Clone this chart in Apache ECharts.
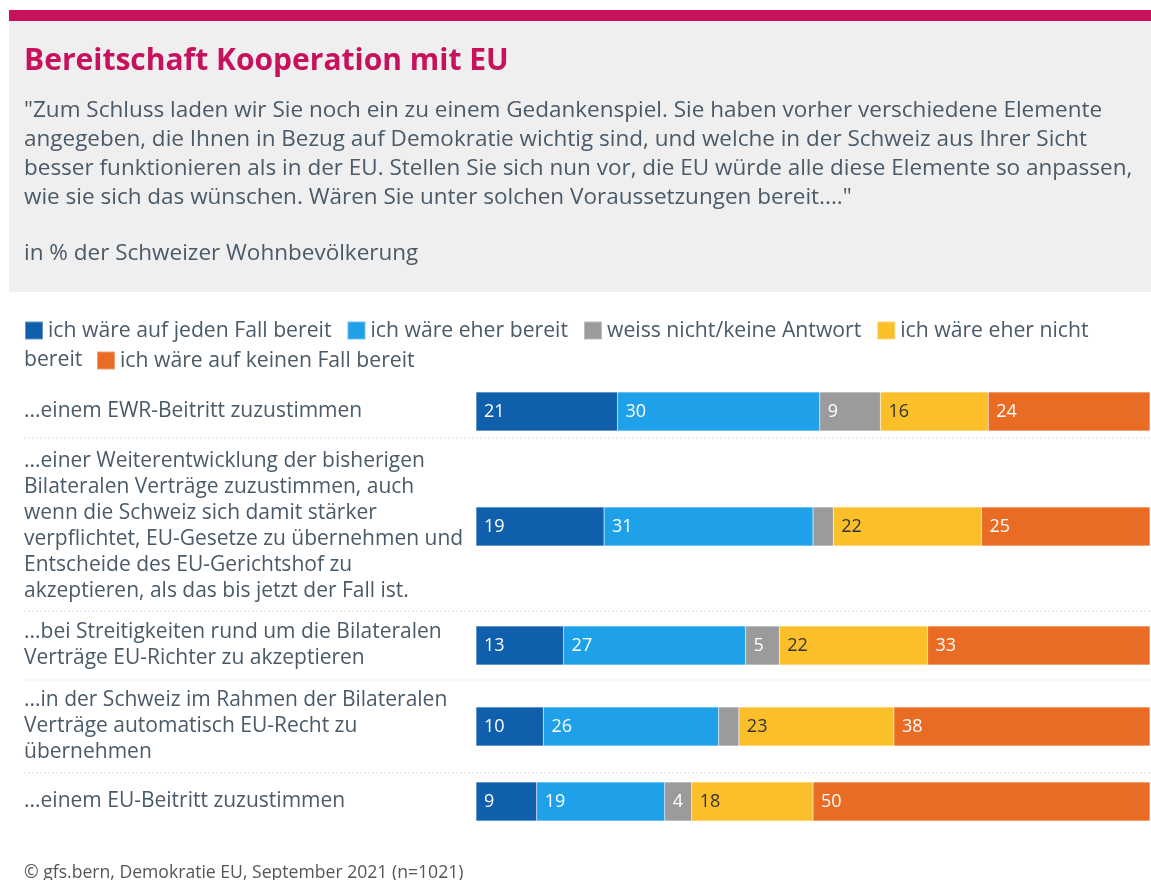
<!DOCTYPE html>
<html>
<head>
<meta charset="utf-8">
<script src="https://cdn.jsdelivr.net/npm/echarts@6/dist/echarts.min.js"></script>
<style>
html,body{margin:0;padding:0;background:#fff;}
#chart{width:1151px;height:880px;}
</style>
</head>
<body>
<div id="chart"></div>
<script>
// ---- data ----
var categories = [
  '...einem EWR-Beitritt zuzustimmen',
  '...einer Weiterentwicklung der bisherigen\nBilateralen Verträge zuzustimmen, auch\nwenn die Schweiz sich damit stärker\nverpflichtet, EU-Gesetze zu übernehmen und\nEntscheide des EU-Gerichtshof zu\nakzeptieren, als das bis jetzt der Fall ist.',
  '...bei Streitigkeiten rund um die Bilateralen\nVerträge EU-Richter zu akzeptieren',
  '...in der Schweiz im Rahmen der Bilateralen\nVerträge automatisch EU-Recht zu\nübernehmen',
  '...einem EU-Beitritt zuzustimmen'
];
var seriesNames = [
  'ich wäre auf jeden Fall bereit',
  'ich wäre eher bereit',
  'weiss nicht/keine Antwort',
  'ich wäre eher nicht bereit',
  'ich wäre auf keinen Fall bereit'
];
var aufJedenFall = [21, 19, 13, 10, 9];
var eherBereit   = [30, 31, 27, 26, 19];
var weissNicht   = [9, 3, 5, 3, 4];
var eherNicht    = [16, 22, 22, 23, 18];
var aufKeinenFall= [24, 25, 33, 38, 50];

// ---- layout / style ----
var values = [aufJedenFall, eherBereit, weissNicht, eherNicht, aufKeinenFall];
var colors = ['#0f5fac', '#1fa1e9', '#9b9b9b', '#fbbf2a', '#e96b24'];
var labelColors = ['#ffffff', '#ffffff', '#ffffff', '#333333', '#ffffff'];
var rowTops = [392, 507, 626, 707, 782];
var barH = 39;
var textColor = '#4a5a68';
var font = '"Open Sans", "Noto Sans", sans-serif';

var grids = [], xAxes = [], yAxes = [], series = [];
categories.forEach(function (cat, r) {
  grids.push({left: 476, right: 1, top: rowTops[r], height: barH, containLabel: false});
  xAxes.push({type: 'value', gridIndex: r, min: 0, max: 100, show: false});
  yAxes.push({
    type: 'category', gridIndex: r, data: [cat],
    axisLine: {show: false}, axisTick: {show: false},
    axisLabel: {
      align: 'left', margin: 452, color: textColor, fontSize: 21,
      fontFamily: font, lineHeight: 26
    }
  });
  values.forEach(function (arr, s) {
    series.push({
      name: seriesNames[s], type: 'bar', stack: 'row' + r,
      xAxisIndex: r, yAxisIndex: r,
      barCategoryGap: 0, barWidth: barH,
      itemStyle: {color: colors[s], borderColor: 'rgba(255,255,255,0.35)', borderWidth: 0.5},
      label: {
        show: true, position: 'insideLeft', distance: 8,
        color: labelColors[s], fontSize: 18, fontFamily: font,
        formatter: function (p) { return p.value >= 4 ? String(p.value) : ''; }
      },
      emphasis: {disabled: true},
      data: [arr[r]]
    });
  });
});

var sepYs = [438, 611, 680, 773];
var graphics = [
  {type: 'rect', shape: {x: 9, y: 10, width: 1142, height: 11}, style: {fill: '#c8115d'}, silent: true},
  {type: 'rect', shape: {x: 9, y: 21, width: 1142, height: 271}, style: {fill: '#efefef'}, silent: true},
  {type: 'text', left: 24, top: 46, style: {text: 'Bereitschaft Kooperation mit EU', fill: '#c8115d', font: 'bold 30px ' + font}},
  {type: 'text', left: 24, top: 96, style: {
    text: '"Zum Schluss laden wir Sie noch ein zu einem Gedankenspiel. Sie haben vorher verschiedene Elemente\nangegeben, die Ihnen in Bezug auf Demokratie wichtig sind, und welche in der Schweiz aus Ihrer Sicht\nbesser funktionieren als in der EU. Stellen Sie sich nun vor, die EU würde alle diese Elemente so anpassen,\nwie sie sich das wünschen. Wären Sie unter solchen Voraussetzungen bereit...."',
    fill: textColor, font: '22.5px ' + font, lineHeight: 29}},
  {type: 'text', left: 24, top: 242, style: {text: 'in % der Schweizer Wohnbevölkerung', fill: textColor, font: '22.5px ' + font}},
  {type: 'text', left: 24, top: 349, style: {text: 'bereit', fill: textColor, font: '21.2px ' + font}},
  {type: 'text', left: 24, top: 864, style: {text: '© gfs.bern, Demokratie EU, September 2021 (n=1021)', fill: '#555555', font: '17.6px ' + font}}
];
sepYs.forEach(function (y) {
  graphics.push({type: 'line', shape: {x1: 24, y1: y, x2: 1151, y2: y},
    style: {stroke: '#dddddd', lineWidth: 1, lineDash: [2, 2]}, silent: true});
});

var legendCommon = {
  orient: 'horizontal', itemWidth: 18, itemHeight: 18, itemGap: 15,
  icon: 'rect', selectedMode: false, padding: 0,
  textStyle: {color: textColor, fontSize: 21.2, fontFamily: font}
};

var option = {
  animation: false,
  backgroundColor: '#ffffff',
  textStyle: {fontFamily: font},
  graphic: graphics,
  legend: [
    Object.assign({}, legendCommon, {
      left: 24, top: 320,
      data: seriesNames.slice(0, 4),
      formatter: function (n) { return n === 'ich wäre eher nicht bereit' ? 'ich wäre eher nicht' : n; }
    }),
    Object.assign({}, legendCommon, {
      left: 96, top: 350,
      data: seriesNames.slice(4)
    })
  ],
  grid: grids,
  xAxis: xAxes,
  yAxis: yAxes,
  series: series
};

var chart = echarts.init(document.getElementById('chart'), null, {renderer: 'canvas'});
chart.setOption(option);
</script>
</body>
</html>
